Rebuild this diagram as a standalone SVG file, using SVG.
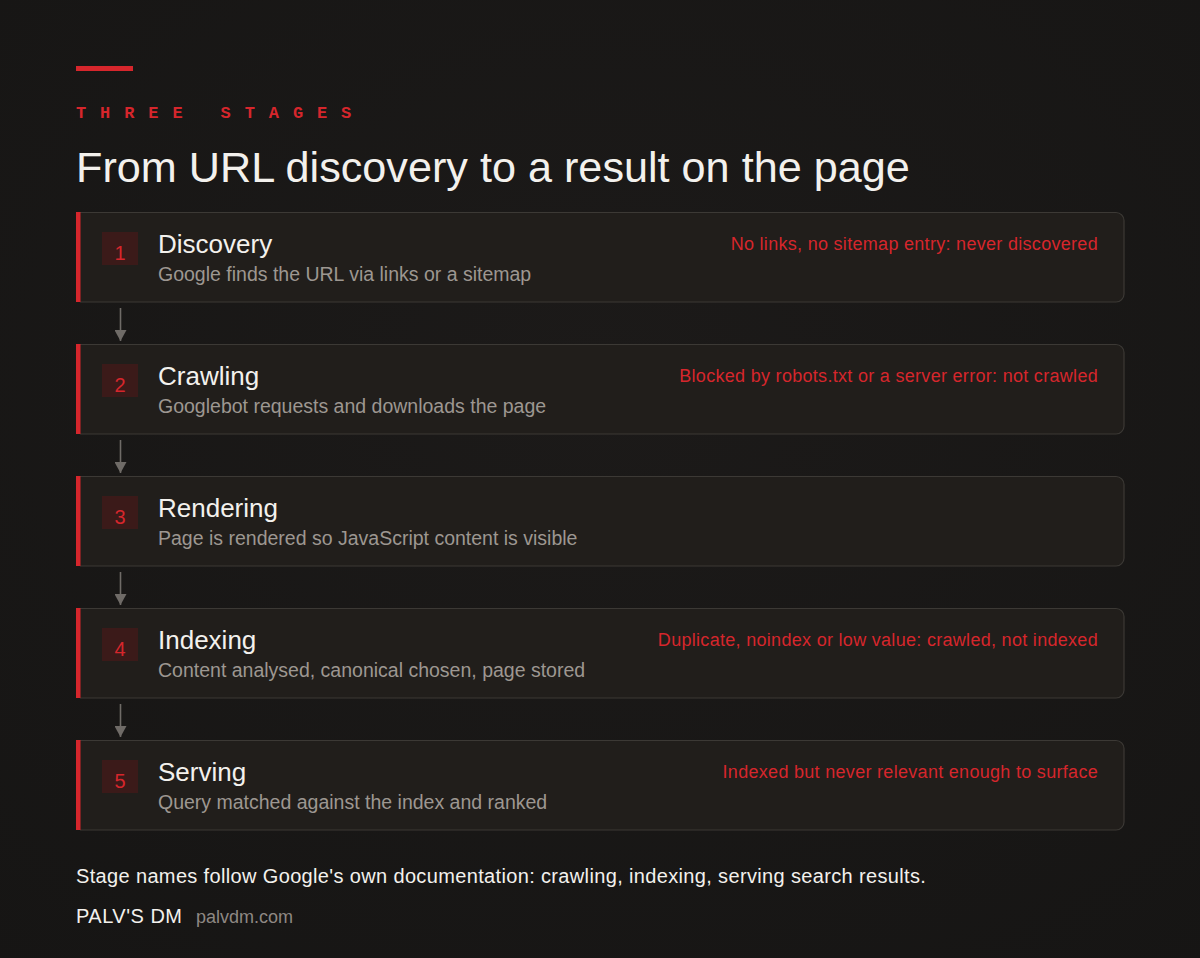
<svg xmlns="http://www.w3.org/2000/svg" width="1200" height="958" viewBox="0 0 1200 958">
<defs>
<style>
.card{fill:#211e1b;stroke:#3c3935;stroke-width:1.2}
.bar{fill:#d6262c}
.nbox{fill:#3b1a19}
.num{font-family:"Liberation Sans",Arial,sans-serif;font-size:20px;fill:#d6262c;text-anchor:middle}
.ttl{font-family:"Liberation Sans",Arial,sans-serif;font-size:26px;fill:#f3f1ed}
.sub{font-family:"Liberation Sans",Arial,sans-serif;font-size:19.5px;fill:#9d9791}
.note{font-family:"Liberation Sans",Arial,sans-serif;font-size:18px;letter-spacing:0.3px;fill:#d6262c;text-anchor:end}
.conn{stroke:#6f6b67;stroke-width:1.6;fill:none}
</style>
<marker id="ah" viewBox="0 0 11 12" refX="11" refY="6" markerWidth="11" markerHeight="12" markerUnits="userSpaceOnUse" orient="auto">
<path d="M0,0 L11,6 L0,12 Z" fill="#6f6b67"/>
</marker>
<radialGradient id="bg" cx="0.5" cy="0.4" r="0.8">
<stop offset="0" stop-color="#1c1a19"/>
<stop offset="1" stop-color="#161514"/>
</radialGradient>
</defs>
<rect width="1200" height="958" fill="url(#bg)"/>
<g id="header">
<rect x="76" y="66" width="57" height="5" fill="#d6262c"/>
<text x="76" y="118" font-family="Liberation Mono, monospace" font-size="17" font-weight="bold" letter-spacing="13.9" fill="#d6262c">THREE STAGES</text>
<text x="76" y="182" font-family="Liberation Sans, Arial, sans-serif" font-size="43.2" fill="#f3f1ed">From URL discovery to a result on the page</text>
</g>
<g id="connectors">
<line class="conn" x1="120.5" y1="308" x2="120.5" y2="341" marker-end="url(#ah)"/>
<line class="conn" x1="120.5" y1="440" x2="120.5" y2="473" marker-end="url(#ah)"/>
<line class="conn" x1="120.5" y1="572" x2="120.5" y2="605" marker-end="url(#ah)"/>
<line class="conn" x1="120.5" y1="704" x2="120.5" y2="737" marker-end="url(#ah)"/>
</g>
<g id="stage1" transform="translate(0,212)">
<path class="card" d="M80,0.5 H1116 A8,8 0 0 1 1124,8.5 V82 A8,8 0 0 1 1116,90 H80"/>
<rect class="bar" x="76" y="0" width="4.5" height="90"/>
<rect class="nbox" x="102" y="20" width="36" height="33"/>
<text class="num" x="120" y="48">1</text>
<text class="ttl" x="158" y="41">Discovery</text>
<text class="sub" x="158" y="69">Google finds the URL via links or a sitemap</text>
<text class="note" x="1098" y="38">No links, no sitemap entry: never discovered</text>
</g>
<g id="stage2" transform="translate(0,344)">
<path class="card" d="M80,0.5 H1116 A8,8 0 0 1 1124,8.5 V82 A8,8 0 0 1 1116,90 H80"/>
<rect class="bar" x="76" y="0" width="4.5" height="90"/>
<rect class="nbox" x="102" y="20" width="36" height="33"/>
<text class="num" x="120" y="48">2</text>
<text class="ttl" x="158" y="41">Crawling</text>
<text class="sub" x="158" y="69">Googlebot requests and downloads the page</text>
<text class="note" x="1098" y="38">Blocked by robots.txt or a server error: not crawled</text>
</g>
<g id="stage3" transform="translate(0,476)">
<path class="card" d="M80,0.5 H1116 A8,8 0 0 1 1124,8.5 V82 A8,8 0 0 1 1116,90 H80"/>
<rect class="bar" x="76" y="0" width="4.5" height="90"/>
<rect class="nbox" x="102" y="20" width="36" height="33"/>
<text class="num" x="120" y="48">3</text>
<text class="ttl" x="158" y="41">Rendering</text>
<text class="sub" x="158" y="69">Page is rendered so JavaScript content is visible</text>
</g>
<g id="stage4" transform="translate(0,608)">
<path class="card" d="M80,0.5 H1116 A8,8 0 0 1 1124,8.5 V82 A8,8 0 0 1 1116,90 H80"/>
<rect class="bar" x="76" y="0" width="4.5" height="90"/>
<rect class="nbox" x="102" y="20" width="36" height="33"/>
<text class="num" x="120" y="48">4</text>
<text class="ttl" x="158" y="41">Indexing</text>
<text class="sub" x="158" y="69">Content analysed, canonical chosen, page stored</text>
<text class="note" x="1098" y="38">Duplicate, noindex or low value: crawled, not indexed</text>
</g>
<g id="stage5" transform="translate(0,740)">
<path class="card" d="M80,0.5 H1116 A8,8 0 0 1 1124,8.5 V82 A8,8 0 0 1 1116,90 H80"/>
<rect class="bar" x="76" y="0" width="4.5" height="90"/>
<rect class="nbox" x="102" y="20" width="36" height="33"/>
<text class="num" x="120" y="48">5</text>
<text class="ttl" x="158" y="41">Serving</text>
<text class="sub" x="158" y="69">Query matched against the index and ranked</text>
<text class="note" x="1098" y="38">Indexed but never relevant enough to surface</text>
</g>
<g id="footer">
<text x="76" y="883" font-family="Liberation Sans, Arial, sans-serif" font-size="20" letter-spacing="0.35" fill="#f3f1ed">Stage names follow Google's own documentation: crawling, indexing, serving search results.</text>
<text x="76" y="923" font-family="Liberation Sans, Arial, sans-serif" font-size="20" letter-spacing="0.5" fill="#f3f1ed">PALV'S DM</text>
<text x="196" y="923" font-family="Liberation Sans, Arial, sans-serif" font-size="18" fill="#8e8883">palvdm.com</text>
</g>
</svg>
